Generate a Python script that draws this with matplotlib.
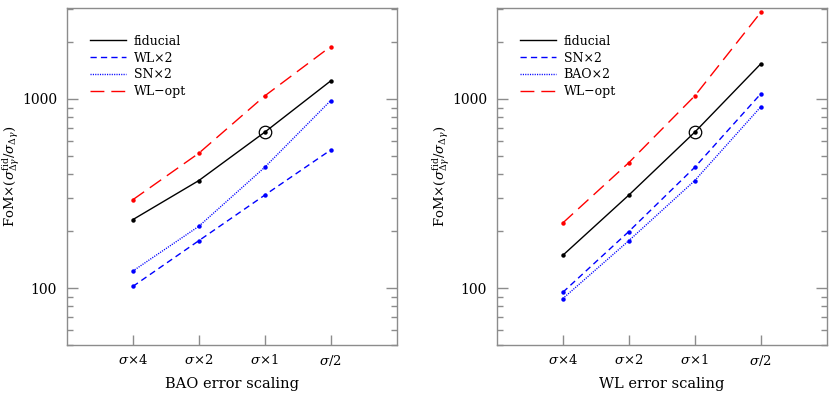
import numpy as np
import matplotlib
matplotlib.use("Agg")
import matplotlib.pyplot as plt
from matplotlib.ticker import LogLocator, NullFormatter, FixedLocator, FixedFormatter

##### DATA #####
scalings = ["$\\sigma$\u00d74", "$\\sigma$\u00d72", "$\\sigma$\u00d71", "$\\sigma$/2"]

# left panel: BAO error scaling
bao_fiducial = [230, 370, 667, 1245]
bao_wlx2 = [102, 178, 310, 537]
bao_snx2 = [123, 212, 435, 980]
bao_wlopt = [293, 516, 1037, 1892]

# right panel: WL error scaling
wl_fiducial = [149, 310, 667, 1531]
wl_snx2 = [95, 199, 435, 1063]
wl_baox2 = [88, 178, 370, 907]
wl_wlopt = [221, 460, 1037, 2864]

plt.rcParams['font.family'] = ['DejaVu Serif']
plt.rcParams['mathtext.fontset'] = 'dejavuserif'

frame_col = '#8c8c8c'
styles = {
    'fiducial': dict(color='black', ls='-'),
    'dash': dict(color='blue', ls=(0, (4.5, 3))),
    'dot': dict(color='blue', ls=(0, (0.8, 0.9))),
    'long': dict(color='red', ls=(0, (10, 5))),
}

fig = plt.figure(figsize=(8.35, 3.93), dpi=100)
ax1 = fig.add_axes([0.080, 0.122, 0.395, 0.858])
ax2 = fig.add_axes([0.595, 0.122, 0.395, 0.858])


def panel(ax, series, xlabel):
    x = np.arange(1, len(scalings) + 1)
    for label, vals, st in series:
        ax.plot(x, vals, lw=1.0, label=label, marker='o', ms=3.2,
                markeredgewidth=0, **st)
    # fiducial point
    ax.plot(x[2], series[0][1][2], marker='o', ms=9, mfc='none',
            mec='black', mew=0.9, ls='none')

    ax.set_yscale('log')
    ax.set_ylim(50, 3030)
    ax.set_xlim(0, 5)

    ax.yaxis.set_major_locator(FixedLocator([100, 1000]))
    ax.yaxis.set_major_formatter(FixedFormatter(['100', '1000']))
    ax.yaxis.set_minor_locator(LogLocator(base=10, subs=np.arange(2, 10)))
    ax.yaxis.set_minor_formatter(NullFormatter())
    ax.set_xticks(x)
    ax.set_xticklabels(scalings)

    ax.tick_params(axis='y', which='both', direction='in', left=True,
                   right=True, color=frame_col, labelsize=10, pad=7)
    ax.tick_params(axis='y', which='major', length=8, width=1)
    ax.tick_params(axis='y', which='minor', length=4, width=1)
    ax.tick_params(axis='x', direction='in', length=7, width=1,
                   color=frame_col, labelsize=9.5, pad=6)
    for sp in ax.spines.values():
        sp.set_color(frame_col)
        sp.set_linewidth(1.0)

    ax.set_xlabel(xlabel, fontsize=10.5, labelpad=6)
    ax.set_ylabel(r'FoM$\times(\sigma^{\rm fid}_{\Delta\gamma}/\sigma_{\Delta\gamma})$',
                  fontsize=9.5)
    ax.yaxis.set_label_coords(-0.137, 0.5)

    leg = ax.legend(loc='upper left', frameon=False, fontsize=9,
                    handlelength=2.9, handletextpad=0.6, labelspacing=0.3,
                    bbox_to_anchor=(0.055, 0.935), borderaxespad=0)
    for h in leg.legend_handles:
        h.set_marker('')


panel(ax1, [('fiducial', bao_fiducial, styles['fiducial']),
            ('WL\u00d72', bao_wlx2, styles['dash']),
            ('SN\u00d72', bao_snx2, styles['dot']),
            ('WL\u2212opt', bao_wlopt, styles['long'])],
      'BAO error scaling')

panel(ax2, [('fiducial', wl_fiducial, styles['fiducial']),
            ('SN\u00d72', wl_snx2, styles['dash']),
            ('BAO\u00d72', wl_baox2, styles['dot']),
            ('WL\u2212opt', wl_wlopt, styles['long'])],
      'WL error scaling')

plt.savefig('out.png', dpi=100)
